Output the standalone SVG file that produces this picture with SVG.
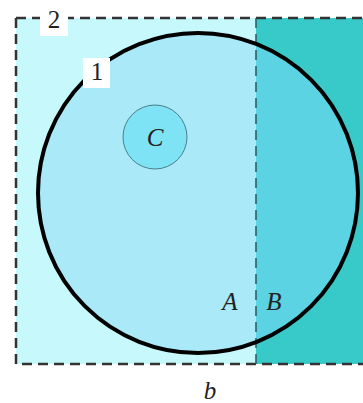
<svg xmlns="http://www.w3.org/2000/svg" width="363" height="403" viewBox="0 0 363 403">
<style>
.lbl{font-family:"Liberation Serif","DejaVu Serif",serif;font-size:25px;fill:#222}
.it{font-style:italic}
.box{fill:#fff}
</style>
<defs>
<clipPath id="cl"><rect x="0" y="0" width="256" height="403"/></clipPath>
<clipPath id="cr"><rect x="256" y="0" width="107" height="403"/></clipPath>
</defs>
<g id="regions">
<rect x="16" y="18" width="240" height="346" fill="#C6F8FC"/>
<rect x="256" y="18" width="107" height="346" fill="#38C9C9"/>
<circle cx="198" cy="193" r="160" fill="#A9E9F8" clip-path="url(#cl)"/>
<circle cx="198" cy="193" r="160" fill="#5CD3E2" clip-path="url(#cr)"/>
</g>
<g id="boundary2">
<path d="M16 18 H363 M16 18 V364 H363" fill="none" stroke="#333" stroke-width="2.5" stroke-dasharray="10 6"/>
</g>
<g id="divider">
<line x1="256" y1="18" x2="256" y2="364" stroke="#2F5F66" stroke-width="1.6" stroke-dasharray="10 6"/>
</g>
<g id="circle1">
<circle cx="198" cy="193" r="160" fill="none" stroke="#000" stroke-width="4"/>
</g>
<g id="nodeC">
<circle cx="155" cy="137" r="32" fill="#7EE3F4" stroke="#4A7F88" stroke-width="1"/>
<text class="lbl it" x="155" y="146" text-anchor="middle" font-size="29">C</text>
</g>
<g id="label2">
<rect class="box" x="40" y="6" width="28" height="30"/>
<text class="lbl" x="54" y="28" text-anchor="middle">2</text>
</g>
<g id="label1">
<rect class="box" x="83" y="58" width="27" height="30"/>
<text class="lbl" x="97" y="80" text-anchor="middle">1</text>
</g>
<g id="labels">
<text class="lbl it" x="230" y="310" text-anchor="middle">A</text>
<text class="lbl it" x="274" y="310" text-anchor="middle">B</text>
<text class="lbl it" x="210" y="399" text-anchor="middle">b</text>
</g>
</svg>
